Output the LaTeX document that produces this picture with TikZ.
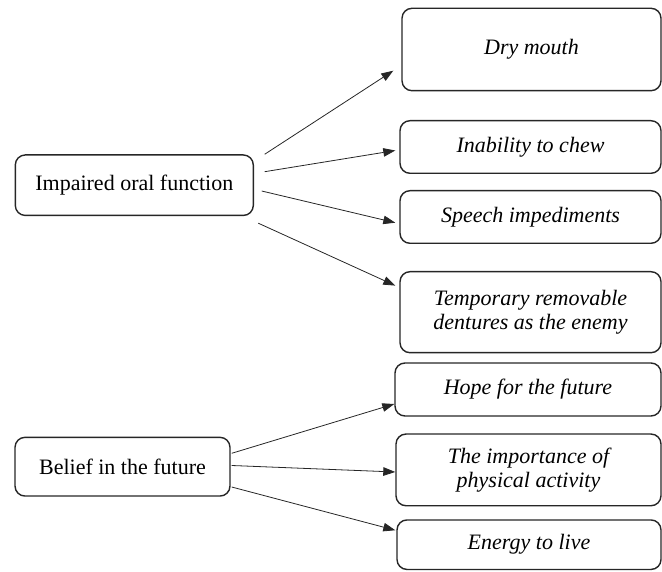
\documentclass[tikz,border=0pt]{standalone}
\usepackage{fontspec}
\setmainfont{Liberation Serif}
\usetikzlibrary{arrows.meta}

\begin{document}
\begin{tikzpicture}[x=1pt,y=1pt,
    box/.style={draw=black!85, line width=1.4pt, rounded corners=10pt,
      inner sep=2pt, align=center, font=\fontsize{22}{24.5}\selectfont},
    sub/.style={box, font=\fontsize{22}{24.5}\selectfont\itshape},
    arr/.style={-{Triangle[length=12pt,width=8.5pt]}, line width=0.8pt, draw=black!85}]
      \useasboundingbox (0,0) rectangle (662,571);

      % 主题
      \node[box, minimum width=238pt, minimum height=60.5pt] (imp) at (134.3,385.8) {Impaired oral function};
      \node[box, minimum width=215pt, minimum height=58.7pt] (belief) at (122.5,104.3) {Belief in the future};

      % 子主题: oral function
      \node[sub, minimum width=259pt, minimum height=82.4pt] (dry) at (531.5,521.5) {Dry mouth};
      \node[sub, minimum width=261pt, minimum height=52.6pt] (chew) at (530.5,424) {Inability to chew};
      \node[sub, minimum width=261pt, minimum height=52.6pt] (speech) at (530.5,354) {Speech impediments};
      \node[sub, minimum width=261pt, minimum height=81pt] (denture) at (530.5,258.8) {Temporary removable\\dentures as the enemy};

      % 子主题: future
      \node[sub, minimum width=266pt, minimum height=53pt] (hope) at (528,181.5) {Hope for the future};
      \node[sub, minimum width=265pt, minimum height=71.7pt] (phys) at (528.5,101.1) {The importance of\\physical activity};
      \node[sub, minimum width=264pt, minimum height=49.5pt] (energy) at (529,26.3) {Energy to live};

      % 箭头
      \draw[arr] ([xshift=10.7pt]imp.north east) -- ([shift={(-8pt,20.7pt)}]dry.south west);
      \draw[arr] ([shift={(10.7pt,13.5pt)}]imp.east) -- ([shift={(-4pt,-3.5pt)}]chew.west);
      \draw[arr] ([shift={(7.7pt,-5.8pt)}]imp.east) -- ([shift={(-4pt,-5.7pt)}]speech.west);
      \draw[arr] ([shift={(4.2pt,-7pt)}]imp.south east) -- ([shift={(-4pt,-14.6pt)}]denture.north west);

      \draw[arr] ([shift={(1pt,13.4pt)}]belief.east) -- ([yshift=-14.5pt]hope.west);
      \draw[arr] ([shift={(1pt,1.2pt)}]belief.east) -- ([yshift=-2.1pt]phys.west);
      \draw[arr] ([shift={(1pt,-20.3pt)}]belief.east) -- ([shift={(-1pt,-11pt)}]energy.north west);
    \end{tikzpicture}
\end{document}
